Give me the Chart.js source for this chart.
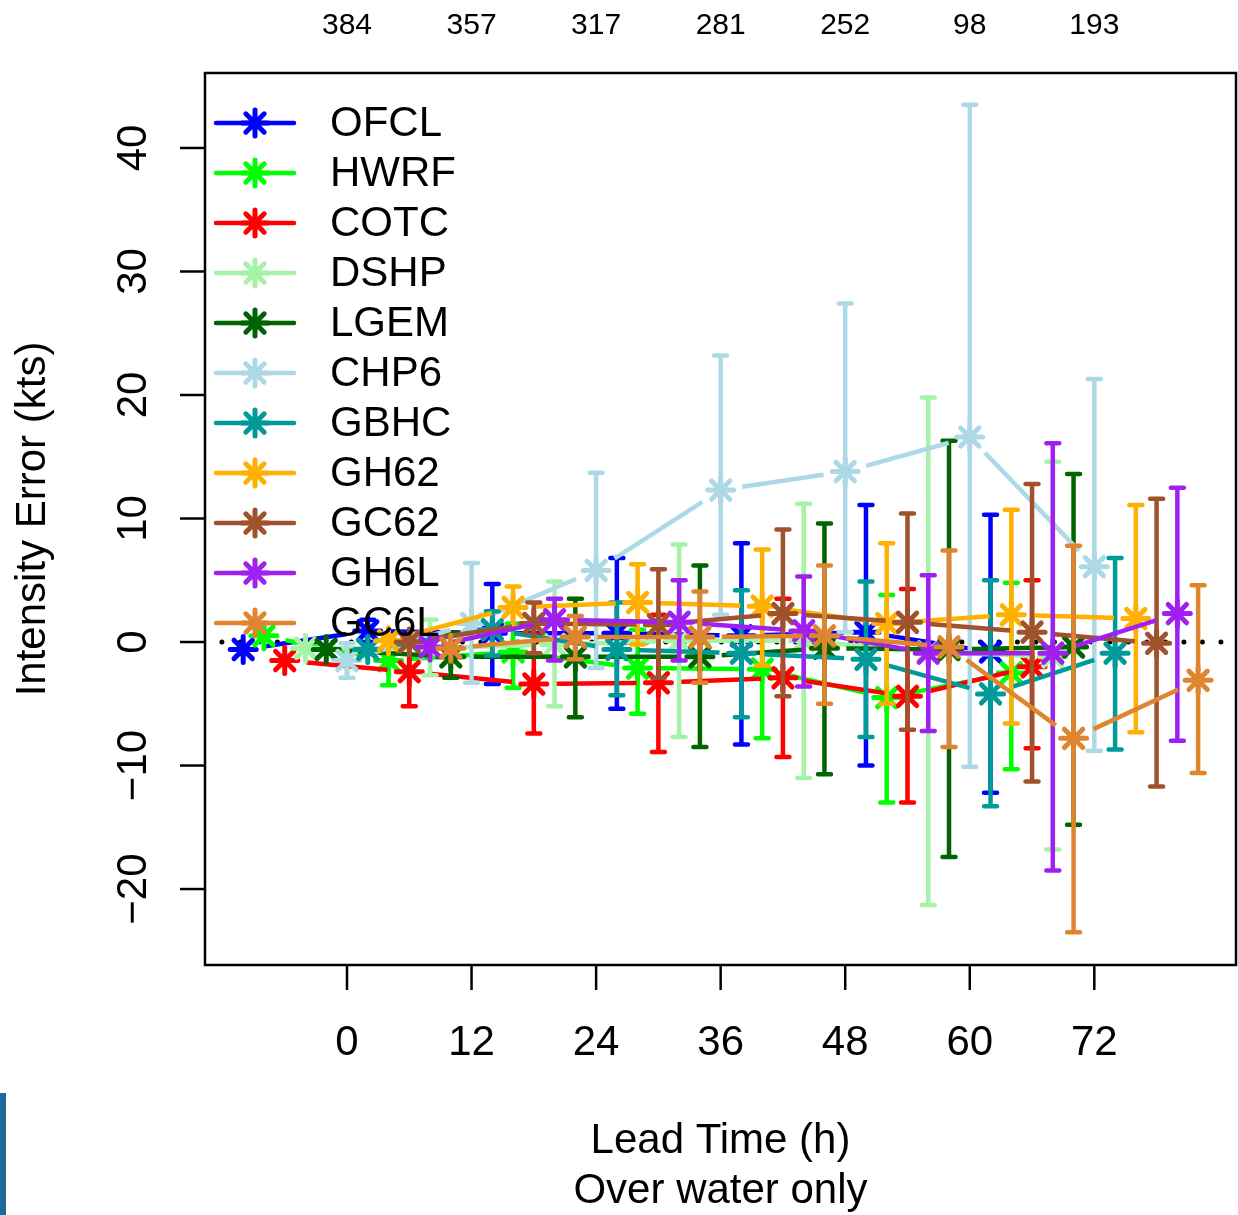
<!DOCTYPE html>
<html>
<head>
<meta charset="utf-8">
<script src="https://cdn.jsdelivr.net/npm/chart.js@4/dist/chart.umd.min.js"></script>
<style>
  body { margin: 0; background: #fff; }
  #wrap { position: relative; width: 1238px; height: 1215px; }
  #corner { position: absolute; left: 0; top: 1093px; width: 6px; height: 122px; background: #1f6a9a; }
</style>
</head>
<body>
<div id="wrap">
  <canvas id="chart" width="1238" height="1215"></canvas>
  <div id="corner"></div>
</div>
<script>
const leadTimes = [0, 12, 24, 36, 48, 60, 72];
const caseCounts = ['384', '357', '317', '281', '252', '98', '193'];
const yTicks = [-20, -10, 0, 10, 20, 30, 40];

const models = ['OFCL', 'HWRF', 'COTC', 'DSHP', 'LGEM', 'CHP6', 'GBHC', 'GH62', 'GC62', 'GH6L', 'GC6L'];
const modelColors = ['#0000ff', '#00ff00', '#ff0000', '#a6f2a6', '#006400', '#add8e6',
                     '#009a9a', '#ffb000', '#a0522d', '#a020f0', '#e0852f'];

// mean intensity error (kts), one row per model, one column per lead time
const meanErr = [
  [-0.6, 0.9, 0.7, 0.7, 0.5, 0.8, -0.8],    // OFCL
  [0.5, -1.5, -0.8, -2.1, -2.2, -4.5, -2.5],  // HWRF
  [-1.5, -2.4, -3.4, -3.3, -2.9, -4.4, -2.0], // COTC
  [-0.5, -0.5, -0.2, 0.1, 0.1, -0.8, -1.2],   // DSHP
  [-0.6, -1.2, -1.2, -1.2, -0.5, -0.6, -0.4], // LGEM
  [-1.5, 1.5, 5.8, 12.3, 13.8, 16.6, 6.1],    // CHP6
  [-0.6, 1.0, -0.6, -0.9, -1.4, -4.2, -0.9],  // GBHC
  [0.1, 2.8, 3.2, 2.9, 1.5, 2.2, 1.9],        // GH62
  [0.0, 1.5, 1.4, 2.3, 1.6, 0.8, -0.1],       // GC62
  [-0.4, 1.8, 1.6, 0.9, -0.9, -0.9, 2.3],     // GH6L
  [-0.5, 0.4, 0.4, 0.5, -0.4, -7.8, -3.1]     // GC6L
];
// top of the error bars
const upperErr = [
  [-0.6, 1.8, 4.7, 6.8, 8.0, 11.1, 10.3],
  [0.5, 0.2, 1.5, 1.0, 3.0, 3.8, 4.8],
  [-1.5, 0.4, 0.6, 2.2, 3.5, 4.3, 5.0],
  [-0.5, 1.8, 4.9, 7.9, 11.2, 19.8, 14.6],
  [-0.6, 0.8, 3.5, 6.2, 9.6, 16.3, 13.6],
  [-0.1, 6.4, 13.7, 23.2, 27.4, 43.5, 21.3],
  [-0.6, 2.5, 3.2, 4.2, 4.9, 5.0, 6.8],
  [0.1, 4.5, 6.3, 7.5, 8.0, 10.7, 11.1],
  [0.0, 3.2, 5.9, 9.1, 10.4, 12.8, 11.6],
  [-0.4, 3.5, 5.0, 5.3, 5.4, 16.1, 12.5],
  [-0.5, 2.1, 4.1, 6.2, 7.4, 7.8, 4.6]
];
// bottom of the error bars
const lowerErr = [
  [-0.6, 0.0, -3.4, -5.4, -8.3, -10.0, -12.2],
  [0.5, -3.5, -3.7, -5.8, -7.8, -13.0, -10.3],
  [-1.5, -5.2, -7.4, -8.9, -9.3, -13.0, -8.6],
  [-0.5, -2.7, -5.2, -7.7, -11.0, -21.3, -16.8],
  [-0.6, -2.9, -6.1, -8.5, -10.7, -17.4, -14.8],
  [-2.9, -3.3, -2.1, 2.2, 0.8, -10.1, -8.8],
  [-0.6, -1.1, -4.3, -6.1, -7.7, -13.3, -8.7],
  [0.1, 1.2, -0.2, -1.9, -5.0, -6.6, -7.3],
  [0.0, -0.9, -2.9, -4.4, -7.1, -11.3, -11.7],
  [-0.4, -1.5, -1.5, -3.6, -7.2, -18.5, -8.0],
  [-0.5, -1.4, -3.3, -5.0, -8.5, -23.5, -10.6]
];

const FONT = "'Liberation Sans', Arial, sans-serif";
const SPREAD = 2; // hours between models inside one lead-time group
const offsetOf = i => (i - (models.length - 1) / 2) * SPREAD;

const datasets = [{
  role: 'zero',
  data: [{ x: -12.05, y: 0 }, { x: 84.3, y: 0 }],
  borderColor: '#000',
  borderWidth: 5,
  borderDash: [0, 18.5],
  borderCapStyle: 'round',
  pointRadius: 0,
  order: 5000
}];

models.forEach((name, i) => {
  const pts = leadTimes.map((t, j) => ({ x: t + offsetOf(i), y: meanErr[i][j] }));
  datasets.push({
    role: 'line', model: i, label: name, data: pts,
    borderColor: modelColors[i], borderWidth: 4.5,
    borderCapStyle: 'round', borderJoinStyle: 'round',
    pointRadius: 0, order: 1000 - 10 * i
  });
  datasets.push({
    role: 'points', model: i, label: name, data: pts, showLine: false,
    pointStyle: 'star', pointRadius: 13, pointBorderWidth: 5,
    pointBorderColor: modelColors[i], pointBackgroundColor: modelColors[i],
    order: 1000 - 10 * i - 5
  });
});

function drawErrorBars(chart, i) {
  const { ctx, scales: { x, y } } = chart;
  ctx.save();
  ctx.strokeStyle = modelColors[i];
  ctx.lineWidth = 4.5;
  ctx.lineCap = 'round';
  leadTimes.forEach((t, j) => {
    if (upperErr[i][j] - lowerErr[i][j] < 0.3) return;
    const px = x.getPixelForValue(t + offsetOf(i));
    const top = y.getPixelForValue(upperErr[i][j]);
    const bot = y.getPixelForValue(lowerErr[i][j]);
    ctx.beginPath();
    ctx.moveTo(px, top); ctx.lineTo(px, bot);
    ctx.moveTo(px - 6.5, top); ctx.lineTo(px + 6.5, top);
    ctx.moveTo(px - 6.5, bot); ctx.lineTo(px + 6.5, bot);
    ctx.stroke();
  });
  ctx.restore();
}

function drawStar(ctx, cx, cy, r, color) {
  ctx.save();
  ctx.strokeStyle = color;
  ctx.lineWidth = 5;
  ctx.lineCap = 'round';
  ctx.beginPath();
  ctx.moveTo(cx - r, cy); ctx.lineTo(cx + r, cy);
  ctx.moveTo(cx, cy - r); ctx.lineTo(cx, cy + r);
  const d = r * Math.SQRT1_2;
  ctx.moveTo(cx - d, cy - d); ctx.lineTo(cx + d, cy + d);
  ctx.moveTo(cx - d, cy + d); ctx.lineTo(cx + d, cy - d);
  ctx.stroke();
  ctx.restore();
}

const rStyle = {
  id: 'rStyle',
  beforeDatasetDraw(chart, args) {
    const ds = chart.data.datasets[args.index];
    const ctx = chart.ctx;
    if (ds.role === 'line') {
      drawErrorBars(chart, ds.model);
      // type="b" look: leave a gap around every point
      ctx.save();
      ctx.beginPath();
      ctx.rect(0, 0, chart.width, chart.height);
      args.meta.data.forEach(p => {
        ctx.moveTo(p.x + 22, p.y);
        ctx.arc(p.x, p.y, 22, 0, Math.PI * 2);
      });
      ctx.clip('evenodd');
    } else if (ds.role === 'points') {
      ctx.save();
      ctx.lineCap = 'round';
    }
  },
  afterDatasetDraw(chart, args) {
    const ds = chart.data.datasets[args.index];
    if (ds.role === 'line' || ds.role === 'points') chart.ctx.restore();
  },
  afterDraw(chart) {
    const { ctx, chartArea: a, scales: { x, y } } = chart;
    ctx.save();
    ctx.strokeStyle = '#000';
    ctx.fillStyle = '#000';
    ctx.lineWidth = 2.5;
    ctx.strokeRect(a.left, a.top, a.right - a.left, a.bottom - a.top);

    // y axis ticks, labels parallel to the axis
    ctx.font = '42px ' + FONT;
    ctx.textAlign = 'center';
    ctx.textBaseline = 'middle';
    yTicks.forEach(v => {
      const py = y.getPixelForValue(v);
      ctx.beginPath(); ctx.moveTo(a.left - 25, py); ctx.lineTo(a.left, py); ctx.stroke();
      ctx.save();
      ctx.translate(134, py);
      ctx.rotate(-Math.PI / 2);
      ctx.fillText(v < 0 ? '\u2212' + Math.abs(v) : String(v), 0, 0);
      ctx.restore();
    });

    // x axis ticks and case counts on top
    leadTimes.forEach((t, j) => {
      const px = x.getPixelForValue(t);
      ctx.beginPath(); ctx.moveTo(px, a.bottom); ctx.lineTo(px, a.bottom + 25); ctx.stroke();
      ctx.font = '42px ' + FONT;
      ctx.fillText(String(t), px, 1043);
      ctx.font = '30px ' + FONT;
      ctx.fillText(caseCounts[j], px, 26);
    });

    const midX = (a.left + a.right) / 2;
    ctx.font = '42px ' + FONT;
    ctx.fillText('Lead Time (h)', midX, 1141);
    ctx.fillText('Over water only', midX, 1191);
    ctx.save();
    ctx.translate(33, (a.top + a.bottom) / 2);
    ctx.rotate(-Math.PI / 2);
    ctx.fillText('Intensity Error (kts)', 0, 0);
    ctx.restore();

    // legend
    models.forEach((name, i) => {
      const ly = 123 + i * 50;
      ctx.save();
      ctx.strokeStyle = modelColors[i];
      ctx.lineWidth = 4.5;
      ctx.lineCap = 'round';
      ctx.beginPath(); ctx.moveTo(216, ly); ctx.lineTo(294, ly); ctx.stroke();
      ctx.restore();
      drawStar(ctx, 255, ly, 13, modelColors[i]);
      ctx.textAlign = 'left';
      ctx.fillStyle = '#000';
      ctx.fillText(name, 330, ly + 1);
    });
    ctx.restore();
  }
};

new Chart(document.getElementById('chart'), {
  type: 'line',
  data: { datasets: datasets },
  options: {
    responsive: false,
    animation: false,
    events: [],
    layout: { autoPadding: false, padding: { left: 205, top: 73, right: 2, bottom: 250 } },
    plugins: {
      legend: { display: false },
      tooltip: { enabled: false }
    },
    scales: {
      x: { type: 'linear', min: -13.68, max: 85.65, display: false },
      y: { type: 'linear', min: -26.15, max: 46.07, display: false }
    }
  },
  plugins: [rStyle]
});
</script>
</body>
</html>
